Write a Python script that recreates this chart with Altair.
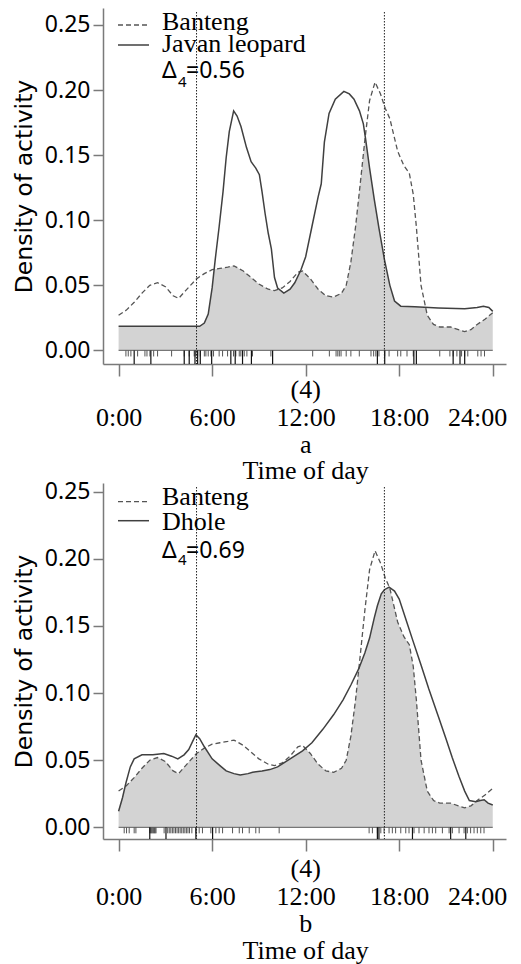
import altair as alt
import numpy as np
import pandas as pd

# ---------------- data ----------------
HOURS_BANTENG = [0.0, 0.5, 1.0, 1.5, 2.0, 2.5, 3.0, 3.5, 3.85, 4.3,
                 5.0, 5.5, 6.0, 6.5, 7.0, 7.4, 8.0, 8.5, 9.0, 9.6,
                 10.0, 10.5, 11.0, 11.5, 11.8, 12.3, 12.8, 13.3, 13.8, 14.3,
                 14.6, 14.9, 15.2, 15.5, 15.8, 16.1, 16.45, 16.8, 17.1, 17.4,
                 17.9, 18.3, 18.65, 18.9, 19.1, 19.4, 19.8, 20.2, 20.6, 21.3,
                 21.8, 22.2, 22.6, 23.0, 23.5, 24.0]
DENS_BANTENG = [0.027, 0.031, 0.037, 0.044, 0.050, 0.052, 0.049, 0.042, 0.040, 0.046,
                0.055, 0.059, 0.062, 0.063, 0.064, 0.065, 0.061, 0.056, 0.051, 0.047,
                0.046, 0.048, 0.053, 0.060, 0.061, 0.055, 0.047, 0.042, 0.041, 0.044,
                0.050, 0.068, 0.095, 0.128, 0.162, 0.192, 0.206, 0.197, 0.186, 0.178,
                0.153, 0.142, 0.136, 0.120, 0.095, 0.050, 0.027, 0.020, 0.018, 0.018,
                0.016, 0.0145, 0.016, 0.020, 0.024, 0.029]

HOURS_LEOPARD = [0.0, 2.0, 4.0, 5.2, 5.5, 5.75, 6.0, 6.2, 6.45, 6.7,
                 6.9, 7.1, 7.38, 7.6, 7.85, 8.2, 8.5, 8.8, 9.03, 9.2,
                 9.4, 9.6, 9.8, 10.0, 10.2, 10.6, 11.0, 11.3, 11.7, 12.0,
                 12.4, 12.8, 13.0, 13.2, 13.5, 13.9, 14.45, 14.8, 15.1, 15.45,
                 15.7, 15.85, 16.1, 16.4, 16.7, 17.05, 17.4, 17.7, 18.1, 19.0,
                 20.5, 22.2, 23.0, 23.4, 23.75, 24.0]
DENS_LEOPARD = [0.0185, 0.0185, 0.0185, 0.0185, 0.021, 0.028, 0.048, 0.070, 0.095, 0.122,
                0.148, 0.168, 0.184, 0.180, 0.172, 0.156, 0.145, 0.140, 0.135, 0.122,
                0.105, 0.090, 0.078, 0.056, 0.048, 0.044, 0.047, 0.052, 0.062, 0.072,
                0.095, 0.118, 0.128, 0.160, 0.182, 0.193, 0.199, 0.197, 0.193, 0.184,
                0.174, 0.162, 0.140, 0.116, 0.094, 0.070, 0.050, 0.038, 0.034, 0.0335,
                0.0326, 0.032, 0.033, 0.034, 0.033, 0.030]

HOURS_DHOLE = [0.0, 0.25, 0.47, 0.75, 1.0, 1.5, 2.2, 2.9, 3.4, 3.8,
               4.2, 4.5, 4.75, 4.96, 5.2, 5.5, 6.0, 6.5, 6.9, 7.4,
               7.8, 8.3, 8.6, 9.2, 9.7, 10.2, 10.6, 11.0, 11.4, 11.8,
               12.4, 13.1, 13.8, 14.4, 14.9, 15.4, 15.8, 16.1, 16.4, 16.6,
               16.85, 17.05, 17.35, 17.7, 18.0, 18.4, 18.85, 19.4, 19.9, 20.5,
               21.0, 21.4, 21.83, 22.2, 22.5, 22.9, 23.2, 23.45, 23.7, 24.0]
DENS_DHOLE = [0.012, 0.022, 0.033, 0.045, 0.051, 0.054, 0.054, 0.055, 0.053, 0.051,
              0.054, 0.058, 0.064, 0.069, 0.066, 0.060, 0.051, 0.046, 0.042, 0.040,
              0.039, 0.040, 0.041, 0.042, 0.043, 0.045, 0.048, 0.051, 0.054, 0.057,
              0.063, 0.073, 0.084, 0.095, 0.106, 0.118, 0.130, 0.141, 0.156, 0.165,
              0.174, 0.177, 0.179, 0.176, 0.170, 0.156, 0.140, 0.121, 0.103, 0.083,
              0.066, 0.052, 0.038, 0.027, 0.020, 0.019, 0.020, 0.0205, 0.018, 0.0166]

RUG_A_SHORT = [0.47, 0.62, 0.79, 1.22, 1.69, 1.82, 2.01, 2.25, 2.5, 3.4, 4.21, 4.53, 4.85,
               4.96, 5.07, 5.24, 5.5, 5.6, 5.75, 5.92, 6.09, 6.45, 6.67, 6.99, 7.37, 7.52,
               7.74, 7.84, 7.95, 8.06, 8.23, 8.59, 9.77, 12.45, 13.52, 13.95, 14.06, 14.16,
               14.27, 14.6, 14.9, 15.44, 16.19, 16.36, 16.5, 16.7, 17.07, 17.35, 17.9, 18.1,
               18.5, 18.9, 20.6, 21.25, 21.46, 21.7, 22.0, 22.2, 22.4, 23.04, 23.25, 23.47]
RUG_A_LONG = [1.0, 2.07, 4.21, 4.53, 4.9, 5.07, 5.24, 5.97, 7.2, 7.48, 7.95, 8.52, 9.88,
              16.6, 17.07, 18.94, 19.1, 21.46, 21.9, 22.2]

RUG_B_SHORT = [0.36, 0.51, 0.68, 1.0, 1.11, 2.0, 2.05, 2.1, 2.15, 2.2, 2.25, 2.3, 2.35, 2.4,
               2.92, 3.15, 3.25, 3.35, 3.45, 3.55, 3.65, 3.75, 3.85, 3.95, 4.05, 4.15, 4.25,
               4.35, 4.45, 4.55, 4.7, 4.96, 5.17, 5.38, 5.92, 6.24, 6.45, 6.67, 7.31, 7.74,
               7.95, 8.38, 8.8, 9.02, 10.3, 16.07, 16.28, 16.6, 16.82, 17.03, 17.35, 17.56,
               17.77, 18.1, 18.42, 18.63, 18.95, 19.27, 19.6, 19.91, 20.13, 20.34, 20.77,
               21.2, 21.41, 21.84, 22.16, 22.37, 22.58, 22.8, 23.01, 23.23, 23.44]
RUG_B_LONG = [2.0, 3.04, 4.96, 6.03, 16.6, 16.7, 18.85, 21.3, 22.27]

SUN_TIMES = [5.0, 17.05]
X_TICKS = [0, 6, 12, 18, 24]
X_LABELS = ["0:00", "6:00", "12:00", "18:00", "24:00"]
Y_TICKS = [0.0, 0.05, 0.10, 0.15, 0.20, 0.25]

# ---------------- styling ----------------
SERIF = "Liberation Serif"
SANS = "Noto Sans"
TITLE_SANS = "DejaVu Sans"
FILL = "#d3d3d3"
AXIS_GREY = "#7a7a7a"
W, H = 403, 356
X_DOMAIN = [-1.0, 24.85]


def overlap(h1, d1, h2, d2):
    grid = sorted(set(h1) | set(h2))
    a = np.interp(grid, h1, d1)
    b = np.interp(grid, h2, d2)
    xs, ys = [], []
    for i in range(len(grid)):
        if i > 0:
            f0, f1 = a[i - 1] - b[i - 1], a[i] - b[i]
            if f0 * f1 < 0:
                t = f0 / (f0 - f1)
                xs.append(grid[i - 1] + t * (grid[i] - grid[i - 1]))
                ys.append(a[i - 1] + t * (a[i] - a[i - 1]))
        xs.append(grid[i])
        ys.append(min(a[i], b[i]))
    return pd.DataFrame({"h": xs, "d": ys})


label_expr = "[{}][indexof([{}], datum.value)]".format(
    ",".join("'%s'" % s for s in X_LABELS), ",".join(str(v) for v in X_TICKS))


def panel(other_name, h_other, d_other, delta, letter, rug_s, rug_l, ydom, o):
    xs = alt.Scale(domain=X_DOMAIN, nice=False, zero=False)
    ys = alt.Scale(domain=ydom, nice=False, zero=False)
    zero_px = H * ydom[1] / (ydom[1] - ydom[0])

    xaxis = alt.Axis(values=X_TICKS, labelExpr=label_expr, title=None, grid=False,
                     domainColor=AXIS_GREY, domainWidth=1.5, tickColor=AXIS_GREY,
                     tickWidth=1.5, tickSize=12, labelFont=SERIF, labelFontSize=26,
                     labelColor="black", labelBaseline="alphabetic",
                     labelPadding=o["lab"] - 12, labelFlush=14, labelFlushOffset=14)
    yaxis = alt.Axis(values=Y_TICKS, format=".2f", grid=False, title="Density of activity",
                     domainColor=AXIS_GREY, domainWidth=1.5, tickColor=AXIS_GREY,
                     tickWidth=1.5, tickSize=10, labelFont=SANS, labelFontSize=23,
                     labelColor="black", labelPadding=3, titleFont=TITLE_SANS,
                     titleFontSize=23.5, titleFontWeight="normal", titleColor="black",
                     titlePadding=8)

    def X(f="h"):
        return alt.X(f + ":Q", scale=xs, axis=xaxis)

    def Y(f="d"):
        return alt.Y(f + ":Q", scale=ys, axis=yaxis)

    XD = alt.XDatum(12, type="quantitative", scale=xs, axis=xaxis)
    YD = alt.YDatum(0, type="quantitative", scale=ys, axis=yaxis)
    dummy = pd.DataFrame({"k": [0]})

    area = alt.Chart(overlap(HOURS_BANTENG, DENS_BANTENG, h_other, d_other)).mark_area(
        color=FILL, opacity=1).encode(x=X(), y=Y(), y2=alt.datum(0))
    base = alt.Chart(pd.DataFrame({"h": [0], "h2": [24]})).mark_rule(
        color="#777777", strokeWidth=1.3).encode(x=X(), x2="h2:Q", y=YD)
    rug1 = alt.Chart(pd.DataFrame({"h": rug_s})).mark_rule(
        color="#555555", strokeWidth=1).encode(x=X(), y=alt.value(zero_px), y2=alt.value(zero_px + 6))
    rug2 = alt.Chart(pd.DataFrame({"h": rug_l})).mark_rule(
        color="#111111", strokeWidth=1.2).encode(x=X(), y=alt.value(zero_px), y2=alt.value(H))
    ban = alt.Chart(pd.DataFrame({"h": HOURS_BANTENG, "d": DENS_BANTENG})).mark_line(
        color="#555555", strokeWidth=1.3, strokeDash=[5, 3]).encode(x=X(), y=Y())
    oth = alt.Chart(pd.DataFrame({"h": h_other, "d": d_other})).mark_line(
        color="#404040", strokeWidth=1.5).encode(x=X(), y=Y())
    sun = alt.Chart(pd.DataFrame({"h": SUN_TIMES})).mark_rule(
        color="#222222", strokeWidth=1, strokeDash=[1.5, 1.5]).encode(
        x=X(), y=alt.value(4), y2=alt.value(H))

    leg_dash = alt.Chart(dummy).mark_rule(color="#555555", strokeWidth=1.3, strokeDash=[5, 3]).encode(
        x=alt.value(15), x2=alt.value(46), y=alt.value(o["l1"]))
    leg_solid = alt.Chart(dummy).mark_rule(color="#404040", strokeWidth=1.5).encode(
        x=alt.value(15), x2=alt.value(46), y=alt.value(o["l2"]))

    def txt(s, x, y, font, size, align="left"):
        return alt.Chart(pd.DataFrame({"t": [s]})).mark_text(
            font=font, fontSize=size, align=align, baseline="alphabetic", color="black").encode(
            text="t:N", x=x, y=alt.value(y))

    texts = [
        txt("Banteng", alt.value(59), o["t1"], SERIF, 26),
        txt(other_name, alt.value(59), o["t2"], SERIF, 26),
        txt("Δ", alt.value(59), o["t3"], SANS, 23),
        txt("4", alt.value(75), o["t4"], SANS, 15),
        txt(delta, alt.value(83), o["t3"], SANS, 23),
        txt("(4)", XD, H + o["par"], SERIF, 26, "center"),
        txt(letter, XD, H + o["let"], SERIF, 26, "center"),
        txt("Time of day", XD, H + o["tit"], SERIF, 26, "center"),
    ]
    return alt.layer(area, base, rug1, rug2, ban, oth, sun, leg_dash, leg_solid, *texts).properties(
        width=W, height=H)


top = panel("Javan leopard", HOURS_LEOPARD, DENS_LEOPARD, "=0.56", "a",
            RUG_A_SHORT, RUG_A_LONG, [-0.0104, 0.263],
            dict(lab=61, par=34, let=89, tit=115, l1=17, l2=37, t1=22, t2=44, t3=70, t4=79))
bottom = panel("Dhole", HOURS_DHOLE, DENS_DHOLE, "=0.69", "b",
               RUG_B_SHORT, RUG_B_LONG, [-0.0087, 0.2565],
               dict(lab=65, par=38, let=93, tit=120, l1=18.7, l2=37.7, t1=22, t2=47, t3=74.7, t4=82))

chart = alt.vconcat(top, bottom, spacing=119, bounds="flush").properties(
    padding={"left": 12, "top": 8, "right": 0, "bottom": 0}
).configure_view(strokeWidth=0)

chart.save("out.html", embed_options={"renderer": "svg", "actions": False})
